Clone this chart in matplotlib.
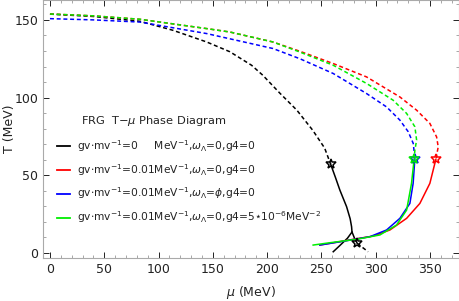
import numpy as np
import matplotlib.pyplot as plt
from matplotlib.lines import Line2D
from matplotlib.ticker import MultipleLocator

# ---- data (mu in MeV, T in MeV) ----
# black: gv*mv^-1 = 0
blk_dash_mu = [0, 40, 82.9, 113.3, 144.3, 165.7, 185.7, 196, 211.8, 227.4, 242, 253, 258.5]
blk_dash_T = [153.7, 152.2, 149.1, 143.3, 135.8, 129.5, 120.8, 114.4, 102.8, 91.9, 79, 67.5, 57.2]
blk_sol_mu = [258.5, 263, 267, 273.2, 276.5, 277.8, 278.2, 274, 267, 260.9]
blk_sol_T = [57.2, 48.5, 40.5, 29.8, 22, 16.9, 13.5, 9.5, 4.8, 0.8]
blk_sol2_mu = [278.2, 280.5, 283]
blk_sol2_T = [13.5, 9.5, 6.2]
blk_dash2_mu = [283, 293]
blk_dash2_T = [6.2, 0.8]

# red: gv*mv^-1 = 0.01, omega=0, g4=0
red_dash_mu = [0, 40, 82.9, 144.3, 165.7, 205.3, 230.2, 260.9, 291.6, 322.3, 337.7, 349.9, 356.1, 357.6, 355.4]
red_dash_T = [153.8, 152.6, 150.4, 144.4, 142.2, 135.8, 129.8, 121.9, 113.3, 100.4, 91.9, 83.4, 74.7, 68.3, 60.2]
red_sol_mu = [355.4, 349.9, 340.7, 328.5, 313.1, 297.7, 279.3, 257.8, 248.6]
red_sol_T = [60.2, 44.8, 31.9, 22.3, 14.8, 10.9, 8.8, 6.2, 5.1]

# blue: omega = phi
blu_dash_mu = [0, 40, 82.9, 144.3, 205.3, 230.2, 260.9, 291.6, 310, 322.3, 330, 334.6, 336.1]
blu_dash_T = [150.8, 150.0, 148.6, 141.2, 131.6, 125, 115.5, 102.6, 94, 85.5, 78, 70.5, 60.8]
blu_sol_mu = [336.1, 334.5, 331.5, 322.3, 310, 294.7, 273.2, 248.6]
blu_sol_T = [60.8, 44.8, 31.9, 22.3, 14.8, 10.5, 7.9, 5.1]

# green: g4 = 5e-6 MeV^-2
grn_dash_mu = [0, 40, 82.9, 144.3, 165.7, 205.3, 230.2, 260.9, 291.6, 316.1, 328.5, 336.1, 337.7, 336.1, 335.5]
grn_dash_T = [153.8, 152.6, 150.4, 144.4, 142.2, 135.8, 129.3, 120.8, 109.1, 98.3, 89.8, 81.2, 72.6, 66.2, 60.8]
grn_sol_mu = [335.5, 333, 328.5, 319.2, 303.9, 282.4, 257.8, 242.4]
grn_sol_T = [60.8, 44.8, 27.6, 18.0, 11.6, 8.8, 6.6, 5.1]

star_mu = [258.5, 283, 355.4, 336.1, 335.0]
star_T = [57.2, 6.2, 60.2, 60.8, 60.8]
star_col = ['k', 'k', '#ff0000', '#0000ff', '#00ee00']

labels = [
    r"gv$\cdot$mv$^{-1}$=0     MeV$^{-1}$,$\omega_{\Lambda}$=0,g4=0",
    r"gv$\cdot$mv$^{-1}$=0.01MeV$^{-1}$,$\omega_{\Lambda}$=0,g4=0",
    r"gv$\cdot$mv$^{-1}$=0.01MeV$^{-1}$,$\omega_{\Lambda}$=$\phi$,g4=0",
    r"gv$\cdot$mv$^{-1}$=0.01MeV$^{-1}$,$\omega_{\Lambda}$=0,g4=5$\star$10$^{-6}$MeV$^{-2}$",
]
colors = ['k', '#ff0000', '#0000ff', '#00ee00']

plt.rcParams['font.family'] = ['DejaVu Sans']
plt.rcParams['mathtext.fontset'] = 'dejavusans'

fig = plt.figure(figsize=(4.6, 3.01), dpi=100)
ax = fig.add_axes([0.0935, 0.143, 0.904, 0.857])

dash = (2.6, 1.8)
lw = 1.1
ax.plot(blk_dash_mu, blk_dash_T, color='k', lw=lw, dashes=dash)
ax.plot(blk_sol_mu, blk_sol_T, color='k', lw=lw)
ax.plot(blk_sol2_mu, blk_sol2_T, color='k', lw=lw)
ax.plot(blk_dash2_mu, blk_dash2_T, color='k', lw=lw, dashes=dash)

ax.plot(red_dash_mu, red_dash_T, color=colors[1], lw=lw, dashes=dash)
ax.plot(red_sol_mu, red_sol_T, color=colors[1], lw=lw)
ax.plot(blu_dash_mu, blu_dash_T, color=colors[2], lw=lw, dashes=dash)
ax.plot(blu_sol_mu, blu_sol_T, color=colors[2], lw=lw)
ax.plot(grn_dash_mu, grn_dash_T, color=colors[3], lw=lw, dashes=dash)
ax.plot(grn_sol_mu, grn_sol_T, color=colors[3], lw=lw)

for m, t, c in zip(star_mu, star_T, star_col):
    ax.plot(m, t, marker='*', ms=7.5, color=c, mfc='none', mew=1.1)

ax.set_xlim(-6.4, 376.6)
ax.set_ylim(-3.2, 162.8)
ax.xaxis.set_major_locator(MultipleLocator(50))
ax.xaxis.set_minor_locator(MultipleLocator(10))
ax.yaxis.set_major_locator(MultipleLocator(50))
ax.yaxis.set_minor_locator(MultipleLocator(10))
ax.tick_params(which='both', direction='in', top=True, right=True, color='#999999')
ax.tick_params(which='major', length=4, width=0.7, labelsize=9, colors='#222222')
ax.tick_params(which='minor', length=2, width=0.6)
for s in ax.spines.values():
    s.set_color('#aaaaaa')
    s.set_linewidth(0.8)

ax.set_xlabel(r"$\mu$ (MeV)", fontsize=9, color='#222222', labelpad=6)
ax.set_ylabel("T (MeV)", fontsize=9, color='#222222')
ax.yaxis.set_label_coords(-0.066, 0.5)

# legend title sits left of centre in the reference, so it is a plain text
ax.text(0.267, 0.531, r"FRG  T$-\mu$ Phase Diagram", transform=ax.transAxes,
        ha='center', va='center', fontsize=8.2, color='#222222')

handles = [Line2D([], [], color=c, lw=1.3) for c in colors]
leg = ax.legend(handles, labels, loc='upper left', bbox_to_anchor=(0.034, 0.465),
                frameon=False, fontsize=7.7, handlelength=1.2, handletextpad=0.7,
                labelspacing=0.75, borderpad=0, borderaxespad=0)
for t in leg.get_texts():
    t.set_color('#222222')

fig.savefig("out.png", dpi=100)
